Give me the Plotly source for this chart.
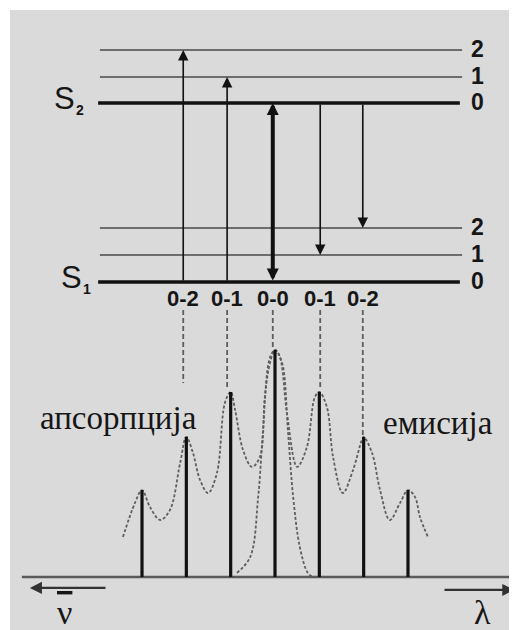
import plotly.graph_objects as go

# ---------------- data ----------------
# vibrational levels (energy in units of vibrational spacing)
s1_levels = [0.0, 1.0, 2.0]
s2_levels = [6.63, 7.59, 8.59]
level_labels = ["0", "1", "2"]
level_x_start = [-3.99, -3.95, -3.95]
level_x_end = [4.17, 4.22, 4.22]

# transitions in the level diagram (x position, from-level, to-level)
trans_labels = ["0-2", "0-1", "0-0", "0-1", "0-2"]
trans_x = [-2.07, -1.08, -0.05, 1.02, 1.98]
trans_from = [0.0, 0.0, 0.0, 6.63, 6.63]
trans_to = [8.59, 7.59, 6.63, 1.0, 2.0]
trans_width = [1.6, 1.6, 4.0, 1.6, 1.6]

# spectrum sticks (position, relative intensity)
stick_x = [-3, -2, -1, 0, 1, 2, 3]
stick_h = [0.383, 0.617, 0.815, 1.0, 0.815, 0.617, 0.383]

# dashed connectors from labels down to spectrum
conn_x = [-2.07, -1.08, -0.05, 1.02, 1.98]
conn_top = [1.176, 1.176, 1.176, 1.176, 1.176]
conn_bottom = [0.855, 0.824, 1.0, 0.824, 0.617]

# absorption envelope
abs_x = [-3.43, -3.16, -3.0, -2.82, -2.59, -2.37, -2.14, -2.0, -1.85, -1.69, -1.51,
         -1.31, -1.13, -1.0, -0.90, -0.72, -0.52, -0.34, -0.23, -0.11, 0.0, 0.16,
         0.29, 0.41, 0.56, 0.74, 0.86]
abs_y = [0.176, 0.326, 0.383, 0.308, 0.251, 0.295, 0.502, 0.617, 0.546, 0.427, 0.370,
         0.458, 0.767, 0.815, 0.736, 0.559, 0.485, 0.529, 0.793, 0.969, 1.0, 0.943,
         0.648, 0.352, 0.132, 0.018, 0.0]
# emission envelope
em_x = [-0.86, -0.56, -0.38, -0.27, -0.16, 0.0, 0.11, 0.27, 0.50, 0.72, 0.90, 1.0,
        1.17, 1.31, 1.53, 1.76, 1.96, 2.0, 2.19, 2.37, 2.59, 2.82, 3.0, 3.16, 3.27, 3.45]
em_y = [0.018, 0.088, 0.352, 0.648, 0.899, 1.0, 0.969, 0.722, 0.485, 0.573, 0.793, 0.815,
        0.749, 0.529, 0.370, 0.471, 0.604, 0.617, 0.546, 0.383, 0.251, 0.326, 0.383,
        0.352, 0.264, 0.176]

SANS = "Liberation Sans, Arial, sans-serif"
SERIF = "Liberation Serif, Times New Roman, serif"
GRAY_BG = "#dadada"
INK = "#161616"

# the page body has an 8px margin; figure fills the rest of the window
W, H = 509, 622

fig = go.Figure()

# energy levels
for levels in (s1_levels, s2_levels):
    for i, e in enumerate(levels):
        fig.add_trace(go.Scatter(
            x=[level_x_start[i], level_x_end[i]], y=[e, e], mode="lines",
            line=dict(color="#111111" if i == 0 else "#484848", width=3.5 if i == 0 else 1.6),
            hoverinfo="skip", showlegend=False, yaxis="y"))

# spectrum baseline
fig.add_trace(go.Scatter(x=[-5.71, 5.46], y=[0, 0], mode="lines",
                         line=dict(color="#5a5a5a", width=2.5),
                         hoverinfo="skip", showlegend=False, yaxis="y2"))

# envelopes
for ex, ey in [(abs_x, abs_y), (em_x, em_y)]:
    fig.add_trace(go.Scatter(x=ex, y=ey, mode="lines", line_shape="spline",
                             line=dict(color="#5e5e5e", width=1.8, dash="3px,2px"),
                             hoverinfo="skip", showlegend=False, yaxis="y2"))

# dashed connectors
cx, cy = [], []
for x, t, b in zip(conn_x, conn_top, conn_bottom):
    cx += [x, x, None]
    cy += [t, b, None]
fig.add_trace(go.Scatter(x=cx, y=cy, mode="lines",
                         line=dict(color="#5e5e5e", width=1.8, dash="5px,3px"),
                         hoverinfo="skip", showlegend=False, yaxis="y2"))

# sticks
sx, sy = [], []
for x, h in zip(stick_x, stick_h):
    sx += [x, x, None]
    sy += [0, h, None]
fig.add_trace(go.Scatter(x=sx, y=sy, mode="lines",
                         line=dict(color="#111111", width=3.2),
                         hoverinfo="skip", showlegend=False, yaxis="y2"))

annotations = []
# transition arrows
for i, (x, f, t, w) in enumerate(zip(trans_x, trans_from, trans_to, trans_width)):
    annotations.append(dict(
        x=x, y=t, ax=x, ay=f, xref="x", yref="y", axref="x", ayref="y",
        showarrow=True, arrowhead=2, arrowsize=1.3 if w < 3 else 0.6,
        arrowwidth=w, arrowcolor="#111111", text="", standoff=0, startstandoff=0,
        arrowside="end+start" if i == 2 else "end"))

# level labels on the right
for levels in (s1_levels, s2_levels):
    for lab, e in zip(level_labels, levels):
        annotations.append(dict(x=4.56, y=e, xref="x", yref="y", text="<b>" + lab + "</b>",
                                showarrow=False, font=dict(family=SANS, size=23, color=INK),
                                xanchor="center", yanchor="middle", yshift=1))

# S labels
for e, sub, xs, dy in [(6.63, "2", -4.74, 4), (0.0, "1", -4.58, 5)]:
    annotations.append(dict(x=xs, y=e, xref="x", yref="y", text="S", showarrow=False,
                            font=dict(family=SANS, size=31, color=INK),
                            xanchor="center", yanchor="middle", yshift=dy))
    annotations.append(dict(x=xs + 0.34, y=e, xref="x", yref="y", text="<b>" + sub + "</b>",
                            showarrow=False, font=dict(family=SANS, size=14, color=INK),
                            xanchor="center", yanchor="middle", yshift=-7))

# transition labels
for lab, x in zip(trans_labels, trans_x):
    annotations.append(dict(x=x, y=-0.6, xref="x", yref="y", text="<b>" + lab + "</b>",
                            showarrow=False, font=dict(family=SANS, size=22, color=INK),
                            xanchor="center", yanchor="middle"))

# spectrum labels
annotations.append(dict(x=-3.54, y=0.70, xref="x", yref="y2", text="апсорпција",
                        showarrow=False, font=dict(family=SERIF, size=33, color=INK),
                        xanchor="center", yanchor="middle"))
annotations.append(dict(x=3.68, y=0.678, xref="x", yref="y2", text="емисија",
                        showarrow=False, font=dict(family=SERIF, size=33, color=INK),
                        xanchor="center", yanchor="middle"))

# axis direction arrows
annotations.append(dict(x=-5.53, y=-0.048, ax=-3.79, ay=-0.048, xref="x", yref="y2",
                        axref="x", ayref="y2", showarrow=True, arrowhead=2, arrowsize=1.1,
                        arrowwidth=2.2, arrowcolor="#333333", text=""))
annotations.append(dict(x=5.40, y=-0.057, ax=3.79, ay=-0.057, xref="x", yref="y2",
                        axref="x", ayref="y2", showarrow=True, arrowhead=2, arrowsize=1.1,
                        arrowwidth=2.2, arrowcolor="#333333", text=""))
annotations.append(dict(x=-4.74, y=-0.155, xref="x", yref="y2",
                        text="<span style='text-decoration:overline'>ν</span>",
                        showarrow=False, font=dict(family=SERIF, size=34, color=INK),
                        xanchor="center", yanchor="middle"))
annotations.append(dict(x=4.69, y=-0.155, xref="x", yref="y2", text="λ",
                        showarrow=False, font=dict(family=SERIF, size=34, color=INK),
                        xanchor="center", yanchor="middle"))

fig.update_layout(
    width=W, height=H,
    margin=dict(l=0, r=0, t=0, b=0),
    paper_bgcolor="white", plot_bgcolor="rgba(0,0,0,0)",
    xaxis=dict(range=[-6.023, 5.459], visible=False, fixedrange=True),
    yaxis=dict(range=[-12.889, 10.148], visible=False, fixedrange=True, domain=[0, 1]),
    yaxis2=dict(range=[-0.2335, 2.5066], visible=False, fixedrange=True,
                overlaying="y"),
    shapes=[dict(type="rect", xref="paper", yref="paper", x0=2 / W, x1=1,
                 y0=0, y1=1 - 2 / H, fillcolor=GRAY_BG, line=dict(width=0),
                 layer="below")],
    annotations=annotations,
    showlegend=False,
)

fig.write_html("out.html")
